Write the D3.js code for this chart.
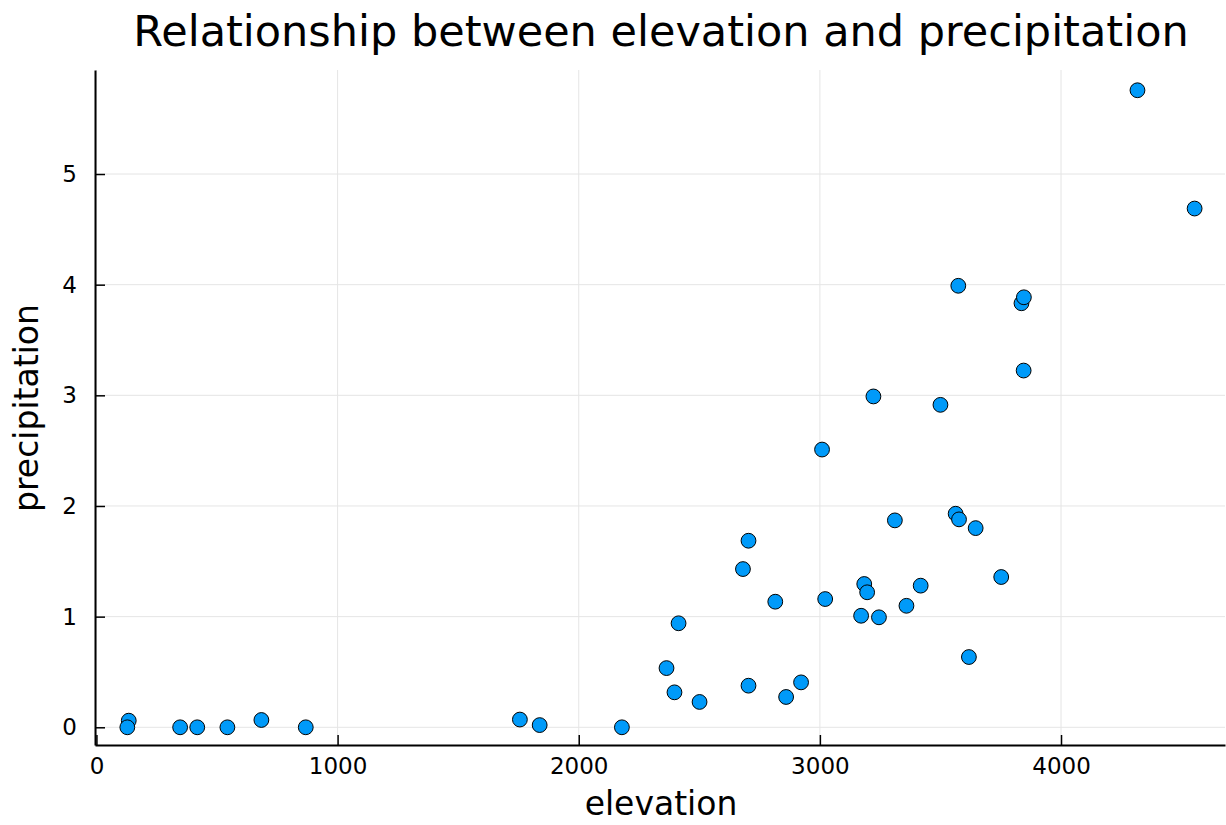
<!DOCTYPE html>
<html lang="en">
<head>
<meta charset="utf-8">
<title>elevation vs precipitation</title>
<script src="https://cdn.jsdelivr.net/npm/d3@7/dist/d3.min.js"></script>
<style>
  body { margin: 0; background: #fff; }
  svg text { font-family: "DejaVu Sans", sans-serif; fill: #000; }
</style>
</head>
<body>
<div id="chart"></div>
<script>
// values
const elevation = [134, 128, 347, 418, 543, 684, 868, 1756, 1838, 2179,
  2364, 2397, 2414, 2501, 2681, 2704, 2704, 2815, 2860, 2922,
  3009, 3022, 3171, 3184, 3196, 3222, 3245, 3311, 3359, 3418,
  3500, 3563, 3574, 3577, 3618, 3646, 3752, 3836, 3845, 3846,
  4317, 4554];
const precipitation = [0.06, 0.0, 0.0, 0.0, 0.0, 0.066, 0.0, 0.07, 0.02, 0.0,
  0.535, 0.316, 0.94, 0.229, 1.43, 0.376, 1.686, 1.135, 0.274, 0.406,
  2.51, 1.159, 1.008, 1.295, 1.22, 2.99, 0.994, 1.87, 1.098, 1.28,
  2.914, 1.93, 3.99, 1.879, 0.635, 1.80, 1.358, 3.832, 3.224, 3.886,
  5.757, 4.688];
const xTicks = [0, 1000, 2000, 3000, 4000];
const yTicks = [0, 1, 2, 3, 4, 5];

const W = 1226, H = 825;
const mLeft = 95, mRight = 1225, mTop = 70, mBottom = 745;

var svg = d3.select("#chart").append("svg").attr("width", W).attr("height", H);

var x = d3.scaleLinear().domain([-6, 4680]).range([mLeft, mRight]);
var y = d3.scaleLinear().domain([-0.16, 5.94]).range([mBottom, mTop]);

// grid
svg.append("g").selectAll("line").data(xTicks).enter().append("line")
  .attr("x1", d => x(d)).attr("x2", d => x(d))
  .attr("y1", mTop).attr("y2", mBottom)
  .attr("stroke", "#e5e5e5").attr("stroke-width", 1);
svg.append("g").selectAll("line").data(yTicks).enter().append("line")
  .attr("x1", mLeft).attr("x2", mRight)
  .attr("y1", d => y(d)).attr("y2", d => y(d))
  .attr("stroke", "#e5e5e5").attr("stroke-width", 1);

// axes (ticks point inward like the GR backend)
var gx = svg.append("g").attr("transform", "translate(0," + mBottom + ")")
  .call(d3.axisBottom(x).tickValues(xTicks).tickFormat(d3.format("d"))
    .tickSizeInner(-10).tickSizeOuter(0).tickPadding(13));
var gy = svg.append("g").attr("transform", "translate(" + mLeft + ",0)")
  .call(d3.axisLeft(y).tickValues(yTicks).tickFormat(d3.format("d"))
    .tickSizeInner(-10).tickSizeOuter(0).tickPadding(18));
[gx, gy].forEach(g => {
  g.select(".domain").attr("stroke", "#000").attr("stroke-width", 2);
  g.selectAll(".tick line").attr("stroke", "#000").attr("stroke-width", 1.5);
  g.selectAll(".tick text").attr("font-size", 23).attr("font-family", "DejaVu Sans");
});
gx.selectAll(".tick text").attr("dy", "0.71em");

// points
svg.append("g").selectAll("circle")
  .data(elevation.map((e, i) => [e, precipitation[i]]))
  .enter().append("circle")
  .attr("cx", d => x(d[0])).attr("cy", d => y(d[1]))
  .attr("r", 7.4)
  .attr("fill", "#009af9").attr("stroke", "#000").attr("stroke-width", 1);

// labels
svg.append("text").attr("x", 661).attr("y", 46).attr("text-anchor", "middle")
  .attr("font-size", 43).text("Relationship between elevation and precipitation");
svg.append("text").attr("x", 661).attr("y", 815).attr("text-anchor", "middle")
  .attr("font-size", 33).text("elevation");
svg.append("text").attr("transform", "translate(38,408) rotate(-90)").attr("text-anchor", "middle")
  .attr("font-size", 33).text("precipitation");
</script>
</body>
</html>
